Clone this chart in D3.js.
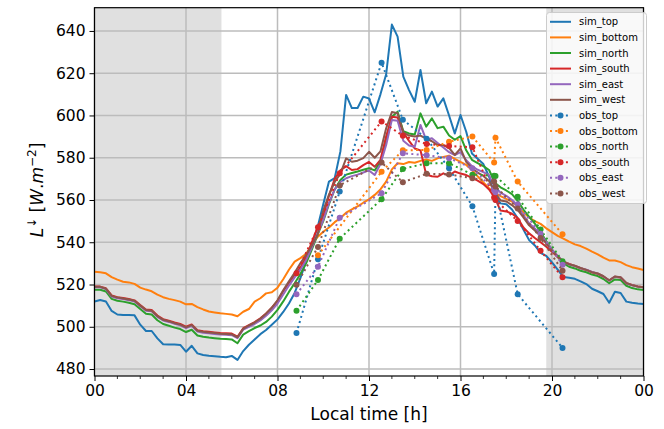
<!DOCTYPE html>
<html>
<head>
<meta charset="utf-8">
<script src="https://cdn.jsdelivr.net/npm/d3@7/dist/d3.min.js"></script>
<style>
  body { margin: 0; background: #fff; }
  text { font-family: 'DejaVu Sans', sans-serif; }
</style>
</head>
<body>
<div id="chart"></div>
<script>
// simulated values every 15 min, 00:00 -> 24:00
const simTop = [512, 512.7, 512, 507.5, 505.8, 505.6, 505.6, 505.4, 501, 498, 498, 494.5, 491.7, 491.6, 491.6, 491.4,
  488.2, 491, 487.4, 486.6, 486.3, 486.1, 485.8, 485.6, 486.2, 484.3, 488.5, 491.5, 494, 496.5, 498.5, 501,
  503.5, 507, 511, 516, 523, 531, 539, 547, 558, 568.7, 570.3, 583, 609.7, 603.5, 603.5, 608.9,
  608, 601.5, 610, 619.5, 643, 637.3, 618.4, 612, 606.5, 621.5, 605.8, 611.3, 604.2, 608.1, 600, 591.5,
  600.2, 592.3, 582, 579.5, 577, 571, 562, 558.4, 558, 555.5, 551.3, 546, 541, 538.5, 535, 533.5,
  530.5, 527, 523.5, 523.2, 522.7, 521.5, 520.2, 518, 516.8, 515.5, 511.4, 516.6, 516, 511.9, 511.4, 511, 510.8]
const simBottom = [526, 525.8, 525.3, 523.5, 522.3, 521.3, 521, 520.3, 518.5, 517.6, 516.8, 515.2, 514, 513.2, 512.6, 511.9,
  510.6, 510.8, 509.3, 508.2, 507.2, 506.8, 506.4, 506.1, 505.8, 505, 507.1, 508.4, 511.9, 513.5, 515.8, 516.3,
  518.5, 522.5, 527, 530.8, 532.5, 534.5, 538.7, 542.5, 545, 547, 549.5, 551.5, 554, 555.5, 557, 558.7,
  560.3, 562.4, 565, 568.7, 574.5, 577.4, 577, 578, 577.6, 578.5, 579.2, 578.5, 579.7, 580.4, 581, 579.5,
  578, 576.6, 574.2, 571.2, 568.3, 565.6, 563.4, 561.8, 560.5, 559.3, 556.8, 554.2, 551.7, 550, 548.7, 546.6,
  544.8, 543, 541.7, 540.3, 539, 538.2, 537, 535.6, 534.3, 532.7, 531.4, 531.4, 530.6, 529.2, 528.2, 527.6, 526.9]
const simNorth = [517.5, 517.5, 516.7, 513.2, 512.3, 511.9, 511.4, 510.7, 508.4, 506.2, 505.8, 503.1, 501.3, 500.5, 499.6, 498.9,
  497.5, 498.6, 495.9, 495.3, 494.9, 494.6, 494.3, 494.2, 494, 492.2, 496.3, 497.9, 499.4, 500.6, 502.3, 504.8,
  508, 512, 516.5, 520.6, 525, 530, 536.5, 543.5, 550, 558, 565, 569.5, 572, 572.8, 573.5, 574.3,
  575, 574, 578, 589, 599.4, 601.8, 592.5, 591.5, 591, 601, 594.7, 598.6, 594, 594.7, 590.5, 588.5,
  590.2, 583.5, 579, 577.5, 576, 574.2, 568.2, 566, 564.5, 562.8, 559.6, 555.5, 552, 548.8, 545, 540.5,
  536.5, 533, 530, 528.4, 527.6, 526.5, 525.8, 524.7, 524, 522.6, 520.6, 522.4, 522.1, 519.4, 518.3, 517.7, 517.4]
const simSouth = [519, 519, 518.2, 514.8, 514, 513.6, 513.1, 512.5, 510.3, 508.2, 507.9, 505.3, 503.6, 502.9, 502, 501.3,
  500, 501.1, 498.4, 497.9, 497.6, 497.3, 497, 496.9, 496.8, 495.3, 499.3, 500.8, 502.2, 504, 506.3, 509,
  512.3, 516.8, 520.8, 524.5, 528, 533, 540, 547, 552.5, 562, 570, 574, 576, 574.2, 574.6, 576.5,
  578, 575.7, 579, 590, 599.4, 599, 592, 588, 584.4, 583.5, 572, 571.2, 571, 572.6, 571.4, 573.5,
  572.5, 571.8, 570.5, 569.2, 567.5, 565, 561, 555, 554.6, 553.5, 551.5, 547, 544.2, 542, 540, 537.9,
  535.5, 533, 530.8, 529.7, 528.8, 527.7, 526.9, 525.8, 525.1, 523.8, 521.9, 523.7, 523.3, 520.6, 519.8, 519.1, 518.7]
const simEast = [518.7, 518.7, 517.8, 514.3, 513.5, 513.1, 512.6, 512, 509.7, 507.6, 507.3, 504.7, 503, 502.3, 501.4, 500.7,
  499.4, 500.4, 497.8, 497.2, 496.9, 496.6, 496.3, 496.2, 496, 494.6, 498.6, 500, 501.3, 503, 505.2, 507.8,
  511, 515.3, 519.5, 523.3, 527, 531.5, 537.5, 544, 550.5, 558.5, 565, 568.5, 570.3, 571.3, 572, 573,
  574, 571.8, 577, 586, 597.9, 597.5, 588, 585.8, 585.2, 595.5, 588.4, 589.2, 587, 584.8, 582.6, 581.2,
  582.6, 578.8, 576, 574.3, 573.2, 571.8, 566, 563.5, 562, 560, 557, 552.8, 549, 546.5, 543.7, 540,
  536.5, 533.5, 530.8, 529.5, 528.8, 527.7, 527, 525.9, 525.2, 523.8, 521.9, 523.7, 523.3, 520.6, 519.6, 519, 518.6]
const simWest = [518.9, 518.9, 518, 514.6, 513.8, 513.4, 512.9, 512.3, 510, 507.9, 507.6, 505, 503.3, 502.6, 501.7, 501,
  499.7, 500.8, 498.1, 497.6, 497.3, 497, 496.7, 496.6, 496.4, 495, 499, 500.6, 502, 503.8, 506.2, 509,
  512.5, 517.3, 521.5, 525.5, 530, 534, 538.5, 543.5, 555, 562.5, 568.5, 572.5, 579.7, 578.1, 578.6, 579.8,
  582.8, 580, 583, 593.9, 601.6, 601, 592, 590.5, 590, 590.5, 589, 587.8, 586, 586, 584.6, 581.3,
  584.4, 578, 575, 573, 571.4, 569, 563.5, 559.8, 559.3, 557.6, 555.3, 551.8, 548, 545.6, 543, 539.5,
  536, 533.2, 530.8, 529.6, 528.9, 527.8, 526.9, 525.8, 525.2, 523.9, 522, 523.8, 523.4, 520.7, 519.7, 519.1, 518.7]

// observations (hours), null = no measurement
const obsHours = [8.83, 9.77, 10.72, 12.55, 13.48, 14.52, 15.5, 16.52, 17.47, 17.53, 18.5, 19.5, 20.46]
const obsTop = [497, 532, 564, 625, 598, 589, 575, 557, 525, 565, 515.4, null, 490]
const obsBottom = [null, 533.8, null, 573.4, 583.5, 583.7, 587.6, 590, 577.7, 589.5, 568.7, null, 543.8]
const obsNorth = [507.6, 522.1, 541.7, 560.4, 574.7, 577.4, 577.4, 572, 571.5, 571.4, 561.5, 546, 531]
const obsSouth = [525.3, 547.1, 572.6, 597.2, 590.4, 586.5, 585.5, 585, 561.2, 560, 550, 536, 523.4]
const obsEast = [515.4, 528.4, 551.6, 563.2, 582.1, 581.2, 579.8, 575, 564.7, 563.7, 558, 544, 529.4]
const obsWest = [519.9, 537.8, 566.9, 577.7, 568.4, 572.4, 572.1, 570.3, 568.8, 566.4, 556, 542, 526.5]

const sunrise = 5.55
const sunset = 19.75
const xTickLabels = ['00', '04', '08', '12', '16', '20', '00']
const yTicks = [480, 500, 520, 540, 560, 580, 600, 620, 640]

const colors = ['#1f77b4', '#ff7f0e', '#2ca02c', '#d62728', '#9467bd', '#8c564b']
const simNames = ['sim_top', 'sim_bottom', 'sim_north', 'sim_south', 'sim_east', 'sim_west']
const obsNames = ['obs_top', 'obs_bottom', 'obs_north', 'obs_south', 'obs_east', 'obs_west']

const W = 664, H = 429
const plot = { left: 94.5, right: 643.5, top: 7.7, bottom: 376 }

const svg = d3.select('#chart').append('svg').attr('width', W).attr('height', H)

const x = d3.scaleLinear().domain([0, 24]).range([plot.left, plot.right])
const y = d3.scaleLinear().domain([476.7, 651]).range([plot.bottom, plot.top])

// night shading
svg.append('rect').attr('x', x(0)).attr('y', plot.top).attr('width', x(sunrise) - x(0))
  .attr('height', plot.bottom - plot.top).style('fill', '#e0e0e0')
svg.append('rect').attr('x', x(sunset)).attr('y', plot.top).attr('width', x(24) - x(sunset))
  .attr('height', plot.bottom - plot.top).style('fill', '#e0e0e0')

// grid
let grid = svg.append('g')
grid.selectAll('.gx').data(d3.range(0, 25, 4)).enter().append('line')
  .attr('x1', d => x(d)).attr('x2', d => x(d)).attr('y1', plot.top).attr('y2', plot.bottom)
  .style('stroke', '#bcbcbc').style('stroke-width', 1.5)
grid.selectAll('.gy').data(yTicks).enter().append('line')
  .attr('x1', plot.left).attr('x2', plot.right).attr('y1', d => y(d)).attr('y2', d => y(d))
  .style('stroke', '#bcbcbc').style('stroke-width', 1.5)

const clip = svg.append('clipPath').attr('id', 'clip').append('rect')
  .attr('x', plot.left).attr('y', plot.top).attr('width', plot.right - plot.left).attr('height', plot.bottom - plot.top)

const simSeries = [simTop, simBottom, simNorth, simSouth, simEast, simWest]
const obsSeries = [obsTop, obsBottom, obsNorth, obsSouth, obsEast, obsWest]

const line = d3.line().x(d => x(d[0])).y(d => y(d[1]))
const lines = svg.append('g').attr('clip-path', 'url(#clip)')

simSeries.forEach((s, i) => {
  lines.append('path')
    .datum(s.map((v, k) => [k * 0.25, v]))
    .attr('d', line)
    .style('fill', 'none')
    .style('stroke', colors[i])
    .style('stroke-width', 2)
    .style('stroke-linejoin', 'round')
})

obsSeries.forEach((s, i) => {
  let pts = s.map((v, k) => [obsHours[k], v]).filter(d => d[1] !== null)
  lines.append('path')
    .datum(pts)
    .attr('d', line)
    .style('fill', 'none')
    .style('stroke', colors[i])
    .style('stroke-width', 2)
    .style('stroke-dasharray', '2,3.3')
  lines.selectAll(null).data(pts).enter().append('circle')
    .attr('cx', d => x(d[0])).attr('cy', d => y(d[1])).attr('r', 3)
    .style('fill', colors[i])
})

// axes
const xAxis = svg.append('g').attr('transform', `translate(0,${plot.bottom})`)
  .call(d3.axisBottom(x).tickValues(d3.range(0, 25, 4)).tickFormat((d, i) => xTickLabels[i]).tickSize(5).tickPadding(4))
xAxis.append('g').selectAll('line').data(d3.range(0, 25, 1).filter(d => d % 4 !== 0)).enter().append('line')
  .attr('x1', d => x(d)).attr('x2', d => x(d)).attr('y1', 0).attr('y2', 3)
  .style('stroke', '#000').style('stroke-width', 0.8)
const yAxis = svg.append('g').attr('transform', `translate(${plot.left},0)`)
  .call(d3.axisLeft(y).tickValues(yTicks).tickSize(5).tickPadding(4))
;[xAxis, yAxis].forEach(a => {
  a.select('.domain').remove()
  a.selectAll('.tick text').style('font-size', '15.5px').style('font-family', 'DejaVu Sans').style('fill', '#000')
  a.selectAll('.tick line').style('stroke', '#000').style('stroke-width', 1)
})

svg.append('rect').attr('x', plot.left).attr('y', plot.top)
  .attr('width', plot.right - plot.left).attr('height', plot.bottom - plot.top)
  .style('fill', 'none').style('stroke', '#000').style('stroke-width', 1.2)

// labels
svg.append('text').attr('x', (plot.left + plot.right) / 2).attr('y', 420)
  .attr('text-anchor', 'middle').style('font-size', '17px').text('Local time [h]')

const yl = svg.append('text').attr('transform', 'translate(43,190) rotate(-90)')
  .attr('text-anchor', 'middle').style('font-size', '17px')
yl.append('tspan').style('font-style', 'italic').text('L')
yl.append('tspan').attr('dy', -7).style('font-size', '12px').text('↓')
yl.append('tspan').attr('dy', 7).text(' [')
yl.append('tspan').style('font-style', 'italic').text('W')
yl.append('tspan').text('.')
yl.append('tspan').style('font-style', 'italic').text('m')
yl.append('tspan').attr('dy', -7).style('font-size', '12px').text('−2')
yl.append('tspan').attr('dy', 7).text(']')

// legend
const leg = svg.append('g')
leg.append('rect').attr('x', 546.5).attr('y', 12.5).attr('width', 100).attr('height', 191).attr('rx', 3)
  .style('fill', '#fff').style('fill-opacity', 0.8).style('stroke', '#cccccc')
const legItems = simNames.map((n, i) => ({ name: n, c: colors[i], obs: false }))
  .concat(obsNames.map((n, i) => ({ name: n, c: colors[i], obs: true })))
legItems.forEach((d, i) => {
  let ly = 21.8 + i * 15.6
  leg.append('line').attr('x1', 550).attr('x2', 571).attr('y1', ly).attr('y2', ly)
    .style('stroke', d.c).style('stroke-width', 2)
    .style('stroke-dasharray', d.obs ? '2,3.3' : null)
  if (d.obs) leg.append('circle').attr('cx', 560.5).attr('cy', ly).attr('r', 3).style('fill', d.c)
  leg.append('text').attr('x', 579).attr('y', ly).attr('dy', '0.35em')
    .style('font-size', '10px').text(d.name)
})
</script>
</body>
</html>
